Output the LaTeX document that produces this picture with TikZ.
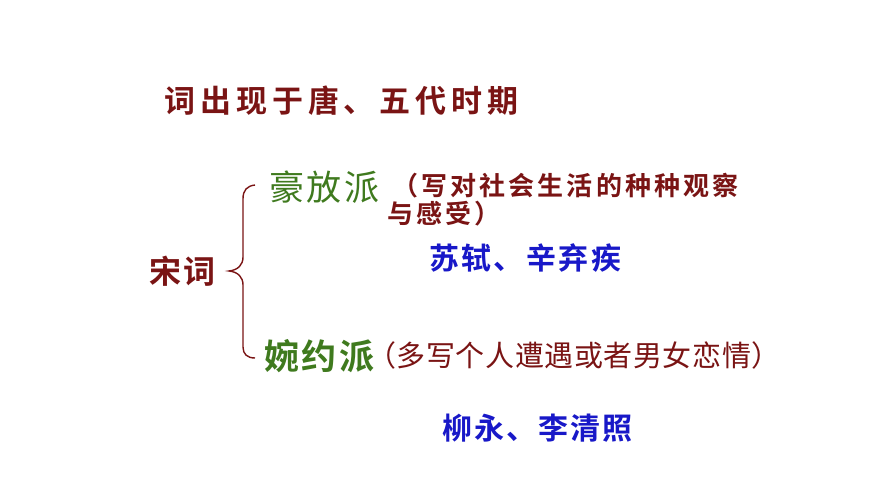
\documentclass[tikz,border=0pt]{standalone}
\usepackage{fontspec}
\newfontfamily\cjkbA[LetterSpace=16]{Noto Sans CJK SC Bold}
\newfontfamily\cjkbB[LetterSpace=12]{Noto Sans CJK SC Bold}
\newfontfamily\cjkbC[LetterSpace=8]{Noto Sans CJK SC Bold}
\newfontfamily\cjkbD[LetterSpace=7]{Noto Sans CJK SC Bold}
\newfontfamily\cjkrC[LetterSpace=8]{Noto Sans CJK SC}
\newfontfamily\cjkrD[LetterSpace=2]{Noto Sans CJK SC}
\definecolor{maroon}{HTML}{7A1414}
\definecolor{grn}{HTML}{3F7A1E}
\definecolor{blu}{HTML}{1818C8}
\tikzset{txt/.style={inner sep=0pt,anchor=west}}
\begin{document}
\begin{tikzpicture}[x=1pt,y=1pt]
\useasboundingbox (0,0) rectangle (870,489);
\fill[white] (0,0) rectangle (870,489);
\node[txt,text=maroon,font=\cjkbA\fontsize{31}{34}\selectfont] (title) at (164,388) {词出现于唐、五代时期};
\node[txt,text=grn,font=\cjkrC\fontsize{35}{38}\selectfont] (hf) at (269,302) {豪放派};
\node[txt,text=maroon,font=\cjkbB\fontsize{26}{30}\selectfont] (hfd1) at (392,303) {（写对社会生活的种种观察};
\node[txt,text=maroon,font=\cjkbB\fontsize{26}{30}\selectfont] (hfd2) at (387,275) {与感受）};
\node[txt,text=blu,font=\cjkbC\fontsize{30}{34}\selectfont] (su) at (429,231) {苏轼、辛弃疾};
\node[txt,text=maroon,font=\cjkbC\fontsize{32}{36}\selectfont] (song) at (149,218) {宋词};
\node[txt,text=grn,font=\cjkbC\fontsize{35}{38}\selectfont] (wy) at (264,133) {婉约派};
\node[txt,text=maroon,font=\cjkrD\fontsize{29}{32}\selectfont] (wyd) at (367,134) {（多写个人遭遇或者男女恋情）};
\node[txt,text=blu,font=\cjkbD\fontsize{30}{34}\selectfont] (liu) at (442,61) {柳永、李清照};
\draw[maroon,line width=1.4pt] (255,304) .. controls (247,303) and (243,299) .. (243,290)
  -- (243,232) .. controls (243,224) and (238,219) .. (229,218)
  .. controls (238,217) and (243,212) .. (243,204)
  -- (243,142) .. controls (243,135) and (247,131) .. (255,131);
\end{tikzpicture}
\end{document}
